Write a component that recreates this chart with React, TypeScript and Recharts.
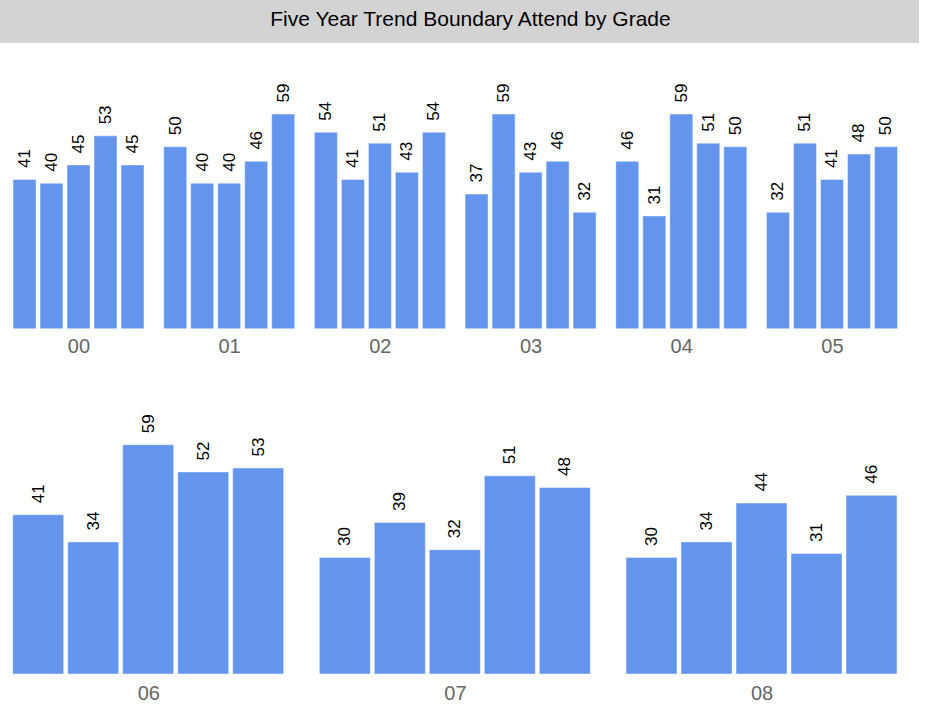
import { BarChart, Bar, XAxis, YAxis, LabelList } from "recharts";

const grades = ["00", "01", "02", "03", "04", "05", "06", "07", "08"];
const year1 = [41, 50, 54, 37, 46, 32, 41, 30, 30];
const year2 = [40, 40, 41, 59, 31, 51, 34, 39, 34];
const year3 = [45, 40, 51, 43, 59, 41, 59, 32, 44];
const year4 = [53, 46, 43, 46, 51, 48, 52, 51, 31];
const year5 = [45, 59, 54, 32, 50, 50, 53, 48, 46];
const yearKeys = ["y1", "y2", "y3", "y4", "y5"];

const rows = grades.map((g, i) => ({
    grade: g,
    y1: year1[i],
    y2: year2[i],
    y3: year3[i],
    y4: year4[i],
    y5: year5[i],
}));

const topRow = rows.slice(0, 6);
const bottomRow = rows.slice(6);

const FONT = "'Liberation Sans', Arial, sans-serif";
const BAR_COLOR = "#6495ed";

const renderValue = (props: any) => {
    const box = props.viewBox || {};
    const x = props.x ?? box.x;
    const y = props.y ?? box.y;
    const width = props.width ?? box.width;
    const cx = x + width / 2;
    const ty = y - 11.5;
    return (
        <text
            x={cx}
            y={ty}
            transform={`rotate(-90, ${cx}, ${ty})`}
            textAnchor="start"
            dominantBaseline="central"
            fontSize={17}
            fontFamily={FONT}
            fill="#000"
        >
            {props.value}
        </text>
    );
};

const makeTick = (dy: number) => (props: any) => {
    const { x, y, payload } = props;
    return (
        <text x={x} y={y + dy} textAnchor="middle" fontSize={20} fontFamily={FONT} fill="#666">
            {payload.value}
        </text>
    );
};

type RowProps = {
    data: typeof rows;
    top: number;
    left: number;
    height: number;
    marginTop: number;
    marginLeft: number;
    marginRight: number;
    axisHeight: number;
    catGap: number;
    tickDy: number;
};

function GradeRow({ data, top, left, height, marginTop, marginLeft, marginRight, axisHeight, catGap, tickDy }: RowProps) {
    return (
        <div style={{ position: "absolute", top, left }}>
            <BarChart
                width={930}
                height={height}
                data={data}
                margin={{ top: marginTop, right: marginRight, bottom: 0, left: marginLeft }}
                barCategoryGap={catGap}
                barGap={4}
            >
                <XAxis
                    dataKey="grade"
                    axisLine={false}
                    tickLine={false}
                    tickSize={0}
                    tickMargin={0}
                    height={axisHeight}
                    interval={0}
                    tick={makeTick(tickDy)}
                />
                <YAxis hide domain={[0, 70]} />
                {yearKeys.map((k) => (
                    <Bar
                        key={k}
                        dataKey={k}
                        fill={BAR_COLOR}
                        stroke="#ffffff"
                        strokeOpacity={0.45}
                        strokeWidth={1}
                        isAnimationActive={false}
                    >
                        <LabelList dataKey={k} content={renderValue} />
                    </Bar>
                ))}
            </BarChart>
        </div>
    );
}

export default function App() {
    return (
        <div style={{ position: "absolute", left: 0, top: 0, width: 930, height: 710, background: "#fff", fontFamily: FONT }}>
            <div
                style={{
                    position: "absolute",
                    left: 0,
                    top: 0,
                    width: 919,
                    height: 43,
                    boxSizing: "border-box",
                    paddingLeft: 22,
                    background: "#d3d3d3",
                    textAlign: "center",
                    fontSize: 21,
                    lineHeight: "37px",
                    color: "#000",
                }}
            >
                Five Year Trend Boundary Attend by Grade
            </div>

            <GradeRow
                data={topRow}
                top={60}
                left={0}
                height={320}
                marginTop={14}
                marginLeft={3.55}
                marginRight={22.25}
                axisHeight={51.3}
                catGap={9.45}
                tickDy={24}
            />

            <GradeRow
                data={bottomRow}
                top={385}
                left={-5}
                height={325}
                marginTop={17}
                marginLeft={0.5}
                marginRight={9.55}
                axisHeight={36}
                catGap={17.2}
                tickDy={25.5}
            />
        </div>
    );
}
